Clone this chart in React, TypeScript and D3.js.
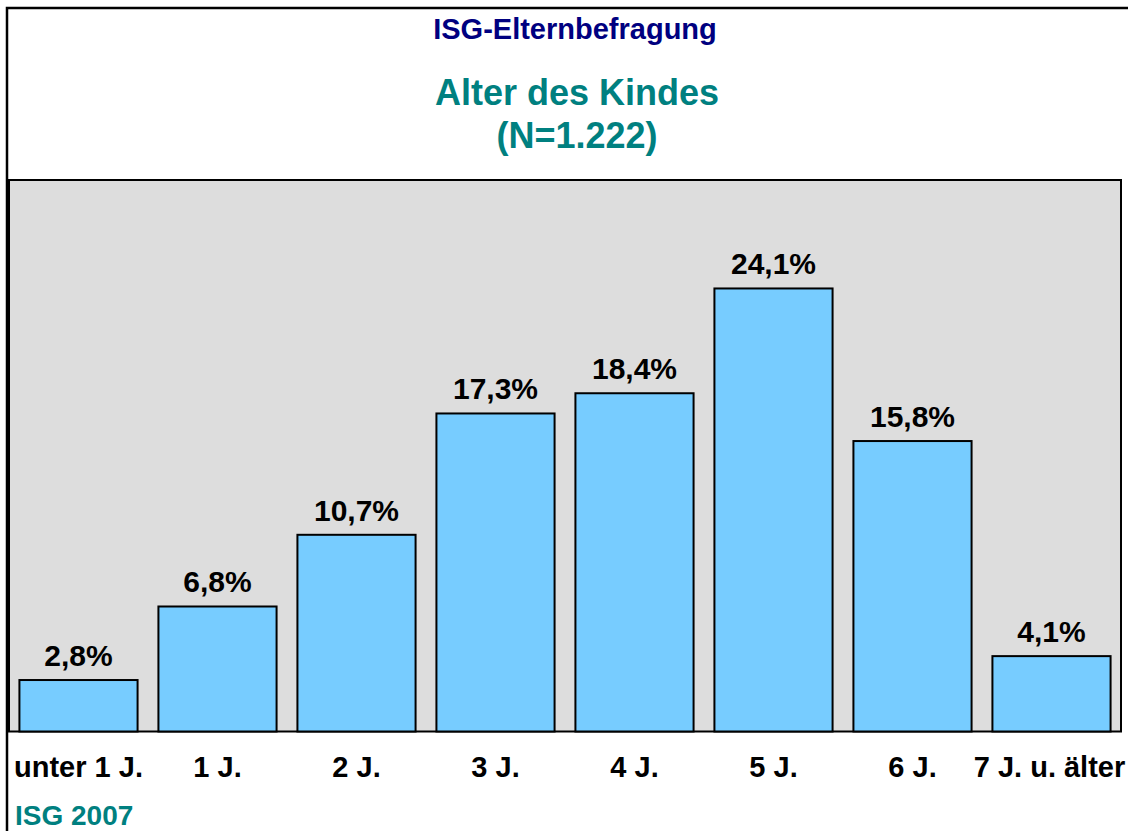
import { useEffect, useRef } from "react";
import * as d3 from "d3";

const categories = ["unter 1 J.", "1 J.", "2 J.", "3 J.", "4 J.", "5 J.", "6 J.", "7 J. u. älter"];
const values = [2.8, 6.8, 10.7, 17.3, 18.4, 24.1, 15.8, 4.1];
const valueLabels = ["2,8%", "6,8%", "10,7%", "17,3%", "18,4%", "24,1%", "15,8%", "4,1%"];
const yDomain = [0, 30];

export default function App() {
  const svgRef = useRef<SVGSVGElement>(null);

  useEffect(() => {
    const el = svgRef.current;
    if (!el) return;
    const W = 1128, H = 831;
    const font = "Arial, 'Liberation Sans', sans-serif";
    const plot = { left: 9, right: 1121, top: 180, bottom: 731.5 };

    const svg = d3.select(el);
    svg.selectAll("*").remove();
    svg.attr("viewBox", `0 0 ${W} ${H}`);

    svg.append("rect").attr("width", W).attr("height", H).attr("fill", "#fff");

    // outer frame: only top and left edges are inside the picture
    svg.append("path")
      .attr("d", `M7,${H} V8 H${W}`)
      .attr("fill", "none").attr("stroke", "#000").attr("stroke-width", 2.5);

    // titles
    svg.append("text").attr("x", 575).attr("y", 39).attr("text-anchor", "middle")
      .attr("font-family", font).attr("font-weight", "bold").attr("font-size", 29)
      .attr("fill", "#000080").text("ISG-Elternbefragung");
    svg.append("text").attr("x", 577).attr("y", 105).attr("text-anchor", "middle")
      .attr("font-family", font).attr("font-weight", "bold").attr("font-size", 36)
      .attr("fill", "#008080").text("Alter des Kindes");
    svg.append("text").attr("x", 577).attr("y", 148).attr("text-anchor", "middle")
      .attr("font-family", font).attr("font-weight", "bold").attr("font-size", 36)
      .attr("fill", "#008080").text("(N=1.222)");

    // plot area
    svg.append("rect")
      .attr("x", plot.left).attr("y", plot.top)
      .attr("width", plot.right - plot.left).attr("height", plot.bottom - plot.top)
      .attr("fill", "#DDDDDD").attr("stroke", "#000").attr("stroke-width", 2);

    const x = d3.scaleBand<string>().domain(categories)
      .range([plot.left, plot.right]).paddingInner(0.15).paddingOuter(0.075);
    const y = d3.scaleLinear().domain(yDomain).range([plot.bottom, plot.top]);

    const g = svg.append("g");
    g.selectAll("rect.bar").data(values).join("rect").attr("class", "bar")
      .attr("x", (d, i) => x(categories[i])!)
      .attr("y", d => y(d))
      .attr("width", x.bandwidth())
      .attr("height", d => y(0) - y(d))
      .attr("fill", "#77CCFF").attr("stroke", "#000").attr("stroke-width", 2);

    g.selectAll("text.val").data(values).join("text").attr("class", "val")
      .attr("x", (d, i) => x(categories[i])! + x.bandwidth() / 2)
      .attr("y", d => y(d) - 14)
      .attr("text-anchor", "middle")
      .attr("font-family", font).attr("font-weight", "bold").attr("font-size", 30)
      .attr("fill", "#000")
      .text((d, i) => valueLabels[i]);

    // category axis labels
    svg.append("g").selectAll("text").data(categories).join("text")
      .attr("x", (d, i) => x(d)! + x.bandwidth() / 2 - (i === categories.length - 1 ? 2 : 0))
      .attr("y", 777)
      .attr("text-anchor", "middle")
      .attr("font-family", font).attr("font-weight", "bold").attr("font-size", 29)
      .attr("fill", "#000")
      .text(d => d);

    svg.append("text").attr("x", 15).attr("y", 825)
      .attr("font-family", font).attr("font-weight", "bold").attr("font-size", 28)
      .attr("fill", "#008080").text("ISG 2007");
  }, []);

  return (
    <svg ref={svgRef} width={1128} height={831}
      style={{ position: "absolute", left: 0, top: 0, display: "block" }} />
  );
}
